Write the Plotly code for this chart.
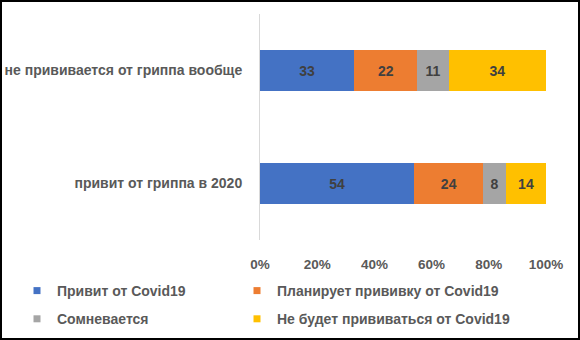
import plotly.graph_objects as go

categories = ["привит от гриппа в 2020", "не прививается от гриппа вообще"]
series_names = ["Привит от Covid19", "Планирует прививку от Covid19",
                "Сомневается", "Не будет прививаться от Covid19"]
vaccinated = [54, 33]
planning = [24, 22]
doubting = [8, 11]
refusing = [14, 34]
tick_vals = [0, 20, 40, 60, 80, 100]
tick_text = ["0%", "20%", "40%", "60%", "80%", "100%"]

colors = ["#4472C4", "#ED7D31", "#A5A5A5", "#FFC000"]
legend_ids = ["legend", "legend2", "legend", "legend2"]
W, H = 580, 340
FONT = "Liberation Sans"
TXT = "#595959"

fig = go.Figure()
for name, vals, col in zip(series_names, [vaccinated, planning, doubting, refusing], colors):
    fig.add_trace(go.Bar(
        y=categories, x=vals, name=name, orientation="h",
        marker=dict(color=col, line=dict(width=0)),
        text=[str(v) for v in vals], textposition="inside",
        insidetextanchor="middle",
        textfont=dict(family=FONT, size=14, color="#404040", weight=700),
        hoverinfo="skip", showlegend=False,
    ))
# legend entries (small square swatches)
for name, col, lg in zip(series_names, colors, legend_ids):
    fig.add_trace(go.Scatter(
        x=[None], y=[None], mode="markers", name=name,
        marker=dict(symbol="square", size=7, color=col),
        legend=lg, legendgroup=name, showlegend=True, hoverinfo="skip",
    ))

legend_common = dict(
    orientation="v", xref="container", yref="container",
    xanchor="left", yanchor="top",
    font=dict(family=FONT, size=14, color=TXT, weight=700),
    itemwidth=30, tracegroupgap=7, traceorder="grouped",
    bgcolor="rgba(0,0,0,0)",
)

fig.update_layout(
    width=W, height=H,
    barmode="stack", bargap=0.645,
    margin=dict(l=0, r=0, t=0, b=0, autoexpand=False),
    paper_bgcolor="white", plot_bgcolor="white",
    showlegend=True,
    uniformtext=dict(minsize=8, mode="show"),
    legend=dict(legend_common, x=17 / W, y=1 - 275 / H),
    legend2=dict(legend_common, x=237 / W, y=1 - 275 / H),
    xaxis=dict(
        domain=[260 / W, 546 / W], range=[0, 100],
        tickvals=tick_vals, ticktext=tick_text,
        showgrid=False, zeroline=False, showline=False,
        tickfont=dict(family=FONT, size=13.5, color=TXT, weight=700),
        ticks="", ticklabelstandoff=14,
    ),
    yaxis=dict(
        domain=[1 - 240 / H, 1 - 14 / H],
        showgrid=False, zeroline=False,
        showline=True, linecolor="#D9D9D9", linewidth=1,
        tickfont=dict(family=FONT, size=14, color=TXT, weight=700),
        ticks="", ticklabelstandoff=14,
    ),
    shapes=[dict(type="rect", xref="paper", yref="paper", x0=0, y0=0, x1=1, y1=1,
                 line=dict(color="black", width=4), fillcolor="rgba(0,0,0,0)")],
)

fig.write_html("out.html")
